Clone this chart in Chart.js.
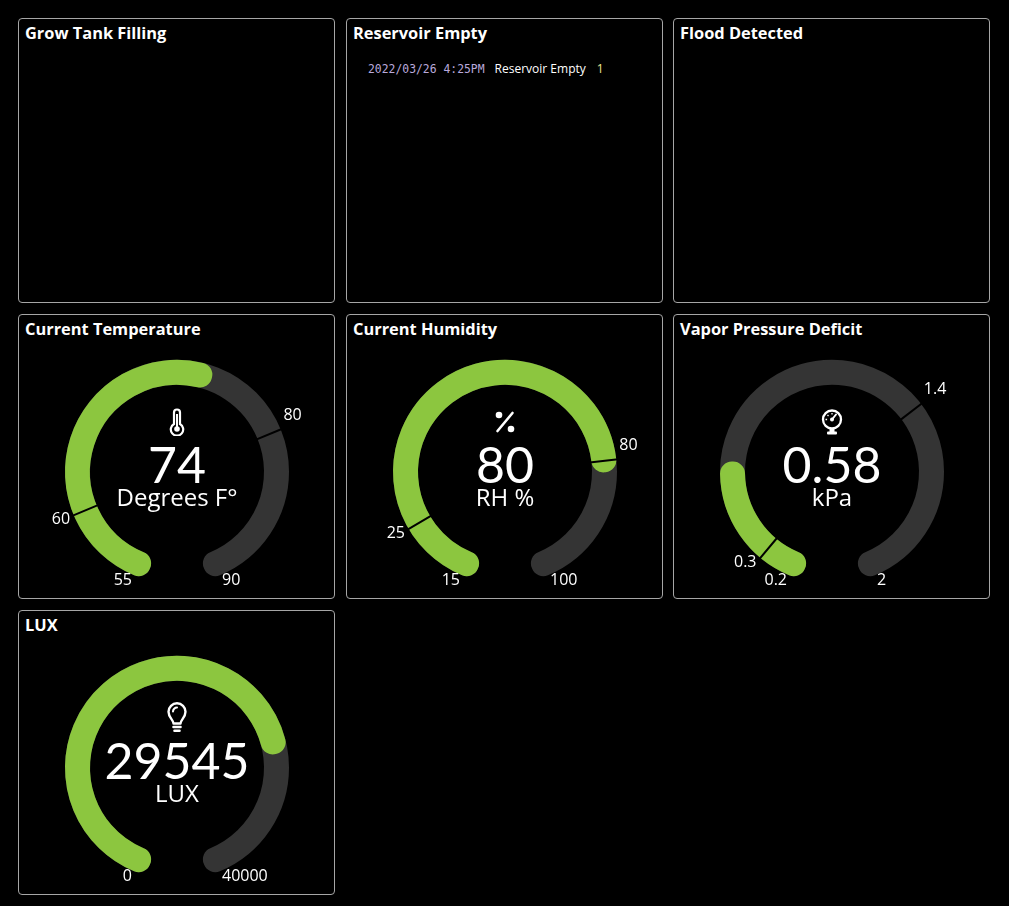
<!DOCTYPE html>
<html lang="en">
<head>
  <meta charset="UTF-8">
  <title>Grow Dashboard</title>
  <script src="https://cdn.jsdelivr.net/npm/chart.js@4"></script>
  <style>
    html, body { margin: 0; background: #000; width: 1009px; height: 906px; overflow: hidden; font-family: "Open Sans", Lato, sans-serif; }
    .tile { position: absolute; width: 315px; height: 283px; border: 1px solid #a6a6a6; border-radius: 4px; }
    .tile h3 { margin: 0; position: absolute; left: 6px; top: 4px; color: #fff; font-size: 16.4px; line-height: 20px; font-weight: 700; white-space: nowrap; }
    .layer { position: absolute; }
    .icon { position: absolute; }
    .log { position: absolute; left: 21px; top: 41px; font-size: 12px; white-space: nowrap; }
    .log .t { font-family: "DejaVu Sans Mono", monospace; font-size: 11.4px; color: #b9a9dc; margin-right: 10px; }
    .log .n { color: #fff; margin-right: 11px; }
    .log .c { color: #eee58f; }
  </style>
</head>
<body>
<script>
  // tiles
  const tileTitles = ['Grow Tank Filling', 'Reservoir Empty', 'Flood Detected',
    'Current Temperature', 'Current Humidity', 'Vapor Pressure Deficit', 'LUX'];
  const tileLeft = [18, 346, 673];
  const tileTop = [18, 314, 610];

  // event log in the "Reservoir Empty" tile
  const logTimes = ['2022/03/26 4:25PM'];
  const logNames = ['Reservoir Empty'];
  const logCounts = [1];

  // gauges (tiles 3..6)
  const gaugeValues = [74, 80, 0.58, 29545];
  const gaugeMin = [55, 15, 0.2, 0];
  const gaugeMax = [90, 100, 2, 40000];
  const gaugeTicks = [[60, 80], [25, 80], [0.3, 1.4], []];
  const gaugeUnits = ['Degrees F°', 'RH %', 'kPa', 'LUX'];
  const gaugeIcons = ['thermo', 'percent', 'meter', 'bulb'];

  const GREEN = '#8cc63f';
  const TRACK = '#343434';
  const SWEEP = 315;
  const W = 300, H = 270;

  const icons = {
    thermo: '<svg width="20" height="28" viewBox="0 0 20 28"><path d="M7 4.5a3 3 0 0 1 6 0v11.5a6.2 6.2 0 1 1-6 0z" fill="none" stroke="#fff" stroke-width="2.2"/><line x1="10" y1="6" x2="10" y2="19" stroke="#fff" stroke-width="2"/><circle cx="10" cy="21" r="2.8" fill="#fff"/></svg>',
    percent: '<svg width="24" height="24" viewBox="0 0 24 24"><circle cx="6" cy="5" r="3.3" fill="#fff"/><circle cx="18" cy="19" r="3.3" fill="#fff"/><line x1="19.5" y1="3" x2="4.5" y2="21" stroke="#fff" stroke-width="2.6" stroke-linecap="round"/></svg>',
    meter: '<svg width="24" height="27" viewBox="0 0 24 27"><circle cx="12" cy="10.5" r="9" fill="none" stroke="#fff" stroke-width="2.3"/><path d="M12 10.5L16 5.5" stroke="#fff" stroke-width="2" stroke-linecap="round"/><circle cx="12" cy="10.5" r="2" fill="#fff"/><path d="M7.5 6l1 1M12 4v1.6M5.5 10.5h1.6" stroke="#fff" stroke-width="1.3"/><rect x="9.5" y="19" width="5" height="4" fill="#fff"/><rect x="7" y="22.5" width="10" height="3" rx="1" fill="#fff"/></svg>',
    bulb: '<svg width="22" height="32" viewBox="0 0 22 32"><path d="M7.5 21.5C7.5 18 2.5 15.5 2.5 9.8a8.5 8.5 0 0 1 17 0c0 5.7-5 8.2-5 11.7z" fill="none" stroke="#fff" stroke-width="2.4" stroke-linejoin="round"/><path d="M7.5 25h7M8.5 28.8h5" stroke="#fff" stroke-width="2.6" stroke-linecap="round"/><path d="M7 9.5a4 4 0 0 1 4-4" stroke="#fff" stroke-width="2" fill="none" stroke-linecap="round"/></svg>'
  };

  tileTitles.forEach((t, i) => {
    const d = document.createElement('div');
    d.className = 'tile';
    d.style.left = tileLeft[i % 3] + 'px';
    d.style.top = tileTop[Math.floor(i / 3)] + 'px';
    d.innerHTML = `<h3>${t}</h3>`;
    if (i === 1) {
      d.innerHTML += logTimes.map((tm, k) =>
        `<div class="log" style="top:${41 + k * 18}px"><span class="t">${tm}</span><span class="n">${logNames[k]}</span><span class="c">${logCounts[k]}</span></div>`).join('');
    }
    document.body.appendChild(d);
  });

  // chart.js shifts the ring down a bit when the bottom is open
  function offY(r) {
    return r * (1 - Math.cos((360 - SWEEP) / 2 * Math.PI / 180)) / 2;
  }

  function fmt(v) { return String(v); }

  function textPlugin(g) {
    return {
      id: 'gaugeText' + g,
      afterDraw(chart) {
        const ctx = chart.ctx;
        const arcs = chart.getDatasetMeta(0).data;
        const x = arcs[0].x, y = arcs[0].y;
        ctx.save();
        ctx.fillStyle = '#fff';
        ctx.textBaseline = 'alphabetic';
        ctx.font = '16px "Open Sans"';
        ctx.textAlign = 'right';
        ctx.fillText(fmt(gaugeMin[g]), x - 45, y + 113);
        ctx.textAlign = 'left';
        ctx.fillText(fmt(gaugeMax[g]), x + 45, y + 113);
        if (gaugeTicks[g].length) {
          gaugeTicks[g].forEach((t, k) => {
            const a = arcs[k + 1].startAngle;
            const px = x + 112 * Math.cos(a), py = y + 112 * Math.sin(a);
            if (Math.cos(a) > 0) {
              ctx.textAlign = 'left';
              ctx.fillText(fmt(t), px + 3, py - 10);
            } else {
              ctx.textAlign = 'right';
              ctx.fillText(fmt(t), px - 3.5, py + 8.5);
            }
          });
        }
        ctx.textAlign = 'center';
        ctx.font = '50px Lato';
        ctx.fillText(fmt(gaugeValues[g]), x, y + 11);
        ctx.font = '24px "Open Sans"';
        ctx.fillText(gaugeUnits[g], x, y + 34);
        ctx.restore();
      }
    };
  }

  function addLayer(cx, cy, radius, cutout, dataset, plugin) {
    const c = document.createElement('canvas');
    c.className = 'layer';
    c.width = W; c.height = H;
    c.style.left = Math.round(cx - W / 2) + 'px';
    c.style.top = Math.round(cy - H / 2 - offY(radius)) + 'px';
    document.body.appendChild(c);
    new Chart(c, {
      type: 'doughnut',
      data: { labels: dataset.data.map((_, i) => 'seg' + i), datasets: [dataset] },
      options: {
        responsive: false,
        animation: false,
        events: [],
        rotation: -SWEEP / 2,
        circumference: SWEEP,
        radius: radius,
        cutout: cutout,
        plugins: { legend: { display: false }, tooltip: { enabled: false } }
      },
      plugins: plugin ? [plugin] : []
    });
  }

  gaugeValues.forEach((v, g) => {
    const tile = g + 3;
    const cx = tileLeft[tile % 3] + 158.5;
    const cy = tileTop[Math.floor(tile / 3)] + 158;
    const lo = gaugeMin[g], hi = gaugeMax[g], ticks = gaugeTicks[g];
    const hasTicks = ticks.length > 0;

    // track: thin arc with a fat round-joined border -> round caps
    addLayer(cx, cy, 100, '99%', {
      data: [hi - lo],
      backgroundColor: TRACK, borderColor: TRACK,
      borderWidth: 24, borderJoinStyle: 'round'
    });

    // value arc
    addLayer(cx, cy, 100, '99%', {
      data: [v - lo, hi - v],
      backgroundColor: [GREEN, 'rgba(0,0,0,0)'],
      borderColor: [GREEN, 'rgba(0,0,0,0)'],
      borderWidth: [24, 0], borderJoinStyle: 'round'
    }, hasTicks ? null : textPlugin(g));

    // threshold marks
    if (hasTicks) {
      const edges = [lo, ...ticks, hi];
      const seg = edges.slice(1).map((e, i) => e - edges[i]);
      addLayer(cx, cy, 116, (83 / 116 * 100).toFixed(2) + '%', {
        data: seg,
        backgroundColor: 'rgba(0,0,0,0)',
        borderColor: '#000',
        borderWidth: seg.map((_, i) => (i > 0 && i < seg.length - 1) ? 2 : 0)
      }, textPlugin(g));
    }

    const ic = document.createElement('div');
    ic.className = 'icon';
    ic.innerHTML = icons[gaugeIcons[g]];
    document.body.appendChild(ic);
    const svg = ic.firstChild;
    ic.style.left = (cx - svg.getAttribute('width') / 2) + 'px';
    ic.style.top = (cy - 50 - svg.getAttribute('height') / 2) + 'px';
  });
</script>
</body>
</html>
